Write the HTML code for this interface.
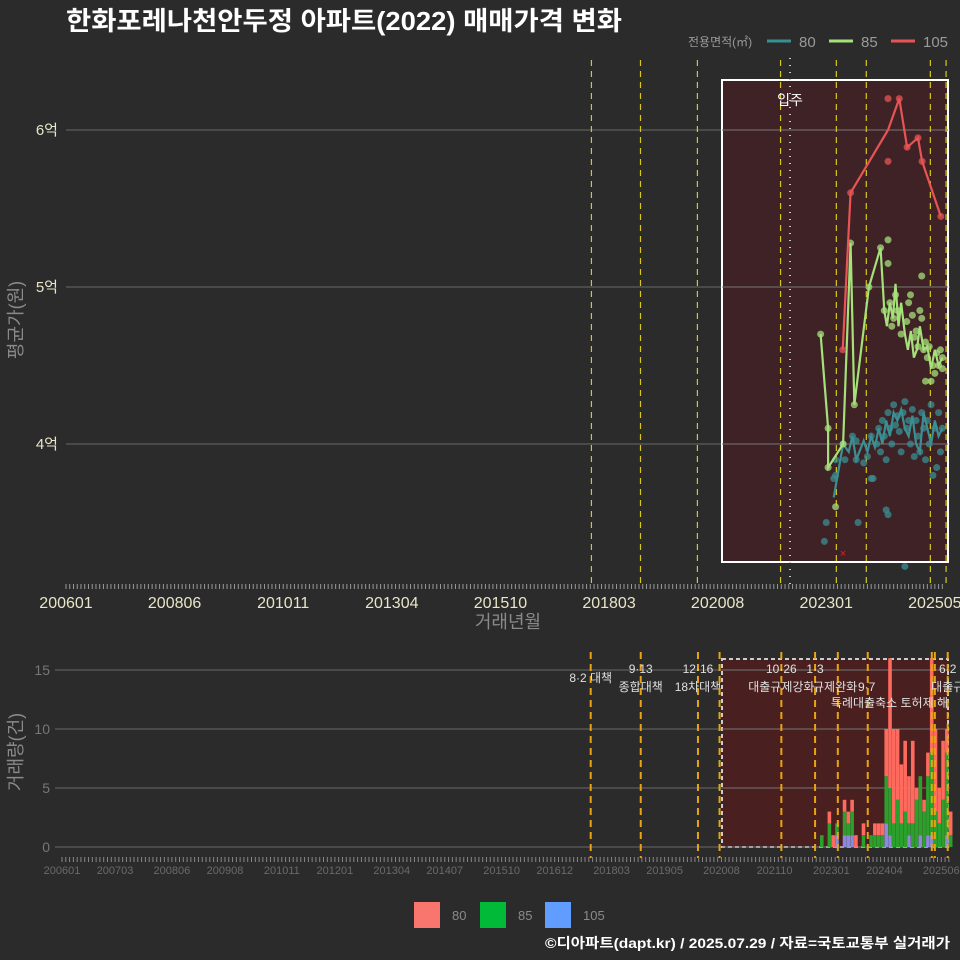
<!DOCTYPE html>
<html><head><meta charset="utf-8">
<style>
html,body{margin:0;padding:0;background:#2b2b2b;}
svg{display:block;font-family:"Liberation Sans","Noto Sans CJK KR",sans-serif;}
</style></head>
<body>
<svg id="c" width="960" height="960" viewBox="0 0 960 960" xmlns="http://www.w3.org/2000/svg">
<rect x="0" y="0" width="960" height="960" fill="#2b2b2b"/>
<text x="66" y="30" fill="#ffffff" font-size="26" font-weight="bold" textLength="556" lengthAdjust="spacingAndGlyphs">한화포레나천안두정 아파트(2022) 매매가격 변화</text>
<g>
<text x="688" y="46" fill="#9a9a9a" font-size="12">전용면적(㎡)</text>
<line x1="767" y1="41" x2="791" y2="41" stroke="#3a8f93" stroke-width="3"/>
<text x="799" y="47" fill="#9a9a9a" font-size="15">80</text>
<line x1="829" y1="41" x2="853" y2="41" stroke="#a5e07a" stroke-width="3"/>
<text x="861" y="47" fill="#9a9a9a" font-size="15">85</text>
<line x1="891" y1="41" x2="915" y2="41" stroke="#e85454" stroke-width="3"/>
<text x="923" y="47" fill="#9a9a9a" font-size="15">105</text>
</g>
<g id="topG"></g>
<g id="botG"></g>
<g>
<rect x="414" y="902" width="26" height="26" fill="#f8766d"/>
<text x="452" y="920" fill="#8a8a8a" font-size="13">80</text>
<rect x="480" y="902" width="26" height="26" fill="#00ba38"/>
<text x="518" y="920" fill="#8a8a8a" font-size="13">85</text>
<rect x="545" y="902" width="26" height="26" fill="#619cff"/>
<text x="583" y="920" fill="#8a8a8a" font-size="13">105</text>
</g>
<text x="950" y="948" text-anchor="end" fill="#ffffff" font-size="14" font-weight="bold" textLength="405" lengthAdjust="spacingAndGlyphs">©디아파트(dapt.kr) / 2025.07.29 / 자료=국토교통부 실거래가</text>
</svg>
<script>
// months counted from 2006-01 (index 0)
const topTickLabels = ["200601","200806","201011","201304","201510","201803","202008","202301","202505"];
const topTickMonths = [0,29,58,87,116,145,174,203,232];
const yTickValues = [4,5,6];
const yTickLabels = ["4억","5억","6억"];
const line105Months = [207.4,209.5,219.5,222.5,224.6,227.5,228.6,233.6];
const line105Values = [4.6,5.6,6.0,6.2,5.89,5.95,5.8,5.45];
const pts105Months = [207.4,209.5,219.5,219.5,222.5,224.6,227.5,228.6,233.6];
const pts105Values = [4.6,5.6,6.2,5.8,6.2,5.89,5.95,5.8,5.45];
const line85Months = [201.5,203.5,203.5,207.5,209.5,210.5,214.4,217.5,218.5,219.2,220,220.8,221.5,222.3,223,224,224.8,225.6,226.4,227.2,228,229,230,231,232,233,234];
const line85Values = [4.7,4.1,3.85,4.0,5.28,4.25,5.0,5.25,4.85,4.75,4.9,4.8,5.02,4.75,4.9,4.7,4.6,4.72,4.55,4.6,4.75,4.6,4.62,4.48,4.6,4.5,4.55];
const pts85Months = [201.5,203.5,203.5,205.5,207.5,209.5,210.5,214.4,217.5,219.5,219.5,218.5,220,220.5,221,221.5,222,223,224.5,225,225.5,226,226.5,227,227.5,228,228.5,229,229.5,230,230.5,231,231.5,232,232.5,233,233.5,234,234,228.5,229.5];
const pts85Values = [4.7,4.1,3.85,3.6,4.0,5.28,4.25,5.0,5.25,5.3,5.15,4.85,4.9,4.75,4.8,4.95,4.85,4.7,4.78,4.9,4.95,4.82,4.68,4.72,4.62,4.85,4.8,4.6,4.65,4.55,4.62,4.4,4.5,4.45,4.58,4.5,4.6,4.55,4.48,5.07,4.4];
const line80Months = [205,207.5,209,210,211,213,214,215,216,217,218,219,220,221,222,223,224,225,226,227,228,229,230,231,232,233,234];
const line80Values = [3.66,4.0,3.95,4.05,3.9,4.02,3.95,4.05,3.98,4.1,4.0,4.15,4.05,4.2,4.15,4.22,4.1,4.05,4.18,4.0,3.95,4.2,4.1,4.0,4.15,4.05,4.1];
const pts80Months = [202.5,203,205,205.5,207.5,208,210,211,211.5,213,214,215,215.5,216.5,217,217.5,218,218.5,219,219.5,220,220.5,221,221.5,222,222.5,223,223.5,224,224.5,225,225.5,226,226.5,227,227.5,228,228.5,229,229.5,230,230.5,231,231.5,232,232.5,233,233.5,234,205.5,211,215,219,219.5,224];
const pts80Values = [3.38,3.5,3.78,3.9,4.0,3.9,4.05,4.02,3.5,3.88,3.92,4.05,3.78,4.0,4.1,3.95,4.15,4.05,3.9,4.2,4.1,4.0,4.25,4.12,4.18,4.08,3.95,4.2,4.27,4.1,4.15,4.0,4.22,3.92,4.15,4.05,3.95,4.2,4.1,3.9,4.15,4.0,4.25,3.8,4.1,3.85,4.2,3.95,4.1,3.8,3.9,3.78,3.58,3.55,3.22];
const topVLines = [140.3,153.4,168.6,190.8,205.7,213.7,230.8,235];
// bottom chart
const botTickLabels = ["200601","200703","200806","200908","201011","201201","201304","201407","201510","201612","201803","201905","202008","202110","202301","202404","202506"];
const botTickMonths = [0,14,29,43,58,72,87,101,116,130,145,159,174,188,203,217,232];
const botYTicks = [0,5,10,15];
const barMonths = [200,201,202,203,204,205,206,207,208,209,210,211,212,213,214,215,216,217,218,219,220,221,222,223,224,225,226,227,228,229,230,231,232,233,234];
const barTotal = [1,0,3,1,2,0,4,3,4,1,0,2,0,1,2,2,2,10,16,10,10,7,9,6,9,5,5,4,8,16,10,5,9,10,3];
const barGreen = [1,0,2,0,1,0,2,1,2,0,0,1,0,1,1,1,1,4,4,2,4,2,3,1,2,4,5,3,5,7,3,2,4,7,1];
const barBlue = [0,0,0,0,1,0,1,1,1,0,0,0,0,0,0,0,0,2,1,0,0,0,0,1,0,0,1,0,1,1,0,0,0,1,0];
const policyMonths = [139.5,152.7,167.8,173.5,189.8,198.7,204.7,212.6,229.5,230.3,233.7];
const policyTop = ["","9·13","12·16","","10·26","1·3","","","","","6·2"];
const policyBottom = ["8·2 대책","종합대책","18차대책","","대출규제강화","","","","","","대출규"];

const NS="http://www.w3.org/2000/svg";
function mk(tag,attrs,parent){const e=document.createElementNS(NS,tag);for(const k in attrs)e.setAttribute(k,attrs[k]);parent.appendChild(e);return e;}
const topG=document.getElementById('topG'), botG=document.getElementById('botG');
const xT=m=>66+m*3.745, yT=v=>444-(v-4)*157;
const xB=m=>62+m*3.79, yB=v=>847-v*11.8;

yTickValues.forEach((v,i)=>{
  const l=mk('line',{x1:66,x2:950,y1:yT(v),y2:yT(v),stroke:'#6a6a6a','stroke-width':1},topG);
  
  
  const t=mk('text',{x:58,y:yT(v)+5,'text-anchor':'end',fill:'#e8e6c8','font-size':15},topG);
  t.textContent=yTickLabels[i];
  
  
});
const sh=mk('rect',{x:722,y:80,width:226,height:482,fill:'#3f2226',stroke:'#ffffff','stroke-width':2},topG);


yTickValues.forEach(v=>{const l=mk('line',{x1:722,x2:948,y1:yT(v),y2:yT(v),stroke:'#777','stroke-width':1},topG);
  
  });
topVLines.forEach(m=>{
  const l=mk('line',{x1:xT(m),x2:xT(m),y1:60,y2:588,stroke:'#d8c81a','stroke-width':1.2,'stroke-dasharray':'6,5'},topG);
  
  
});
const mv=mk('line',{x1:790,x2:790,y1:58,y2:588,stroke:'#cccccc','stroke-width':2,'stroke-dasharray':'1,6'},topG);


const mt=mk('text',{x:790,y:105,'text-anchor':'middle',fill:'#ffffff','font-size':14},topG);
mt.textContent='입주';


for(let m=0;m<=234;m++){const l=mk('line',{x1:xT(m),x2:xT(m),y1:584,y2:589,stroke:'#999','stroke-width':1},topG);
  
  }
topTickLabels.forEach((s,i)=>{const t=mk('text',{x:xT(topTickMonths[i]),y:608,'text-anchor':'middle',fill:'#e8e6c8','font-size':16},topG);
  t.textContent=s;
  
  });
const xt=mk('text',{x:508,y:628,'text-anchor':'middle',fill:'#8a8a8a','font-size':18},topG);
xt.textContent='거래년월';


const yt=mk('text',{x:0,y:0,'text-anchor':'middle',fill:'#8a8a8a','font-size':18,transform:'translate(22,320) rotate(-90)'},topG);
yt.textContent='평균가(원)';



function series(ms,vs,pms,pvs,col,name){
  pms.forEach((m,i)=>{const c=mk('circle',{cx:xT(m),cy:yT(pvs[i]),r:3.5,fill:col,'fill-opacity':0.75},topG);
    
    });
  const p=mk('polyline',{points:ms.map((m,i)=>xT(m)+','+yT(vs[i])).join(' '),fill:'none',stroke:col,'stroke-width':2.2},topG);
  
  
}
series(line80Months,line80Values,pts80Months,pts80Values,'#3a8f93','80');
series(line85Months,line85Values,pts85Months,pts85Values,'#a5e07a','85');
series(line105Months,line105Values,pts105Months,pts105Values,'#e85454','105');
const xm=mk('text',{x:xT(207.5),y:557,'text-anchor':'middle',fill:'#e02020','font-size':11},topG);
xm.textContent='×';



// bottom chart
botYTicks.forEach(v=>{
  const l=mk('line',{x1:55,x2:950,y1:yB(v),y2:yB(v),stroke:'#6a6a6a','stroke-width':1},botG);
  
  
  const t=mk('text',{x:50,y:yB(v)+5,'text-anchor':'end',fill:'#777','font-size':14},botG);
  t.textContent=v;
  
  
});
const bs=mk('rect',{x:722,y:659,width:226,height:188,fill:'#4a1f20',stroke:'#cccccc','stroke-width':2,'stroke-dasharray':'4,3'},botG);


botYTicks.forEach(v=>{const l=mk('line',{x1:722,x2:948,y1:yB(v),y2:yB(v),stroke:'#777','stroke-width':1},botG);
  
  });
barMonths.forEach((m,i)=>{
  const x=xB(m), w=3.6;
  const b=barBlue[i], g=barGreen[i], r=barTotal[i]-g-b;
  if(b>0){const e=mk('rect',{x:x,y:yB(b),width:w,height:yB(0)-yB(b),fill:'#8a8ad8'},botG);
    
    }
  if(g>0){const e=mk('rect',{x:x,y:yB(b+g),width:w,height:yB(b)-yB(b+g),fill:'#2ca02c'},botG);
    
    }
  if(r>0){const e=mk('rect',{x:x,y:yB(b+g+r),width:w,height:yB(b+g)-yB(b+g+r),fill:'#ff6a5e'},botG);
    
    }
});
policyMonths.forEach((m,i)=>{
  const l=mk('line',{x1:xB(m),x2:xB(m),y1:652,y2:858,stroke:'#e8a317','stroke-width':2,'stroke-dasharray':'7,5'},botG);
  
  
  if(policyTop[i]){const t=mk('text',{x:xB(m),y:673,'text-anchor':'middle',fill:'#e0e0e0','font-size':12},botG);
    t.textContent=policyTop[i];
    
    }
  if(policyBottom[i]){const t=mk('text',{x:xB(m),y:i===0?682:691,'text-anchor':'middle',fill:'#e0e0e0','font-size':12},botG);
    t.textContent=policyBottom[i];
    
    }
});
const p2=mk('text',{x:813,y:691,'text-anchor':'start',fill:'#e0e0e0','font-size':12},botG);
p2.textContent='규제완화';


const p3=mk('text',{x:858,y:691,'text-anchor':'start',fill:'#e0e0e0','font-size':12},botG);
p3.textContent='9·7';


const ex=mk('text',{x:948,y:707,'text-anchor':'end',fill:'#e0e0e0','font-size':12},botG);
ex.textContent='특례대출축소 토허제 해';


for(let m=0;m<=234;m++){const l=mk('line',{x1:xB(m),x2:xB(m),y1:857,y2:862,stroke:'#888','stroke-width':1},botG);
  
  }
botTickLabels.forEach((s,i)=>{const t=mk('text',{x:xB(botTickMonths[i]),y:874,'text-anchor':'middle',fill:'#6a6a6a','font-size':11},botG);
  t.textContent=s;
  
  });
const vt=mk('text',{x:0,y:0,'text-anchor':'middle',fill:'#8a8a8a','font-size':18,transform:'translate(22,752) rotate(-90)'},botG);
vt.textContent='거래량(건)';


</script>
</body></html>
